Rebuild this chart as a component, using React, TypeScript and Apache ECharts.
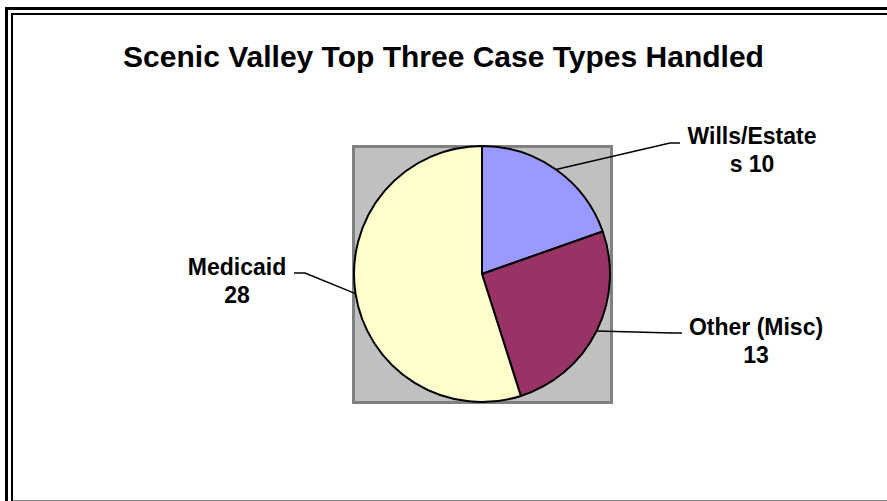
import React, { useEffect, useRef } from "react";
import * as echarts from "echarts";

const titleText = "Scenic Valley Top Three Case Types Handled";
const categories = ["Wills/Estates", "Other (Misc)", "Medicaid"];
const values = [10, 13, 28];
const colors = ["#9999FF", "#993366", "#FFFFCC"];

// label placement (layout only)
const labelCenters = [
  [752, 150],
  [756, 341],
  [237, 281],
];
const labelLineBends = [
  [[670, 143], [680, 143]],
  [[672, 333], [682, 333]],
  [[305, 273], [294, 273]],
];

const CX = 482;
const CY = 274;
const R = 128;
const WRAP = 12;

export default function App() {
  const ref = useRef<HTMLDivElement>(null);
  useEffect(() => {
    document.body.style.margin = "0";
    const chart = echarts.init(ref.current!, undefined, { renderer: "svg" });
    const total = values.reduce((a, b) => a + b, 0);
    const mids: number[] = [];
    let cum = 0;
    values.forEach((v) => {
      mids.push(((cum + v / 2) / total) * 2 * Math.PI);
      cum += v;
    });
    const font = "'Liberation Sans', Arial, sans-serif";
    chart.setOption({
      animation: false,
      backgroundColor: "#ffffff",
      title: {
        text: titleText,
        left: "center",
        top: 41,
        padding: 0,
        textStyle: { fontFamily: font, fontWeight: "bold", fontSize: 30, color: "#000" },
      },
      graphic: [
        {
          type: "rect",
          shape: { x: 6.5, y: 8.5, width: 1000, height: 1000 },
          style: { fill: "none", stroke: "#000", lineWidth: 3 },
        },
        {
          type: "line",
          shape: { x1: 12, y1: 13, x2: 12, y2: 501 },
          style: { stroke: "#000", lineWidth: 2 },
        },
        {
          type: "line",
          shape: { x1: 11, y1: 14, x2: 900, y2: 14 },
          style: { stroke: "#000", lineWidth: 2 },
        },
        {
          type: "line",
          shape: { x1: 13, y1: 500.5, x2: 900, y2: 500.5 },
          style: { stroke: "#808080", lineWidth: 1 },
        },
        {
          type: "rect",
          shape: { x: 353.5, y: 146.5, width: 258, height: 256 },
          style: { fill: "#C0C0C0", stroke: "#808080", lineWidth: 3 },
        },
      ],
      series: [
        {
          type: "pie",
          center: [CX, CY],
          radius: R,
          startAngle: 90,
          clockwise: true,
          z: 5,
          itemStyle: { borderColor: "#000", borderWidth: 2 },
          label: {
            show: true,
            position: "outside",
            fontFamily: font,
            fontWeight: "bold",
            fontSize: 23,
            lineHeight: 28,
            color: "#000",
            align: "center",
            formatter: (p: any) =>
              p.name.length > WRAP
                ? p.name.slice(0, WRAP) + "\n" + p.name.slice(WRAP) + " " + p.value
                : p.name + "\n" + p.value,
          },
          labelLine: { show: true, lineStyle: { color: "#000", width: 1.5 } },
          labelLayout: (params: any) => {
            const i = params.dataIndex;
            const a = mids[i];
            const start = [CX + R * Math.sin(a), CY - R * Math.cos(a)];
            return {
              x: labelCenters[i][0],
              y: labelCenters[i][1],
              align: "center",
              verticalAlign: "middle",
              labelLinePoints: [start, labelLineBends[i][0], labelLineBends[i][1]],
            };
          },
          emphasis: { disabled: true },
          data: categories.map((name, i) => ({
            name,
            value: values[i],
            itemStyle: { color: colors[i] },
          })),
        },
      ],
    });
    return () => chart.dispose();
  }, []);
  return <div ref={ref} style={{ width: 887, height: 501 }} />;
}
